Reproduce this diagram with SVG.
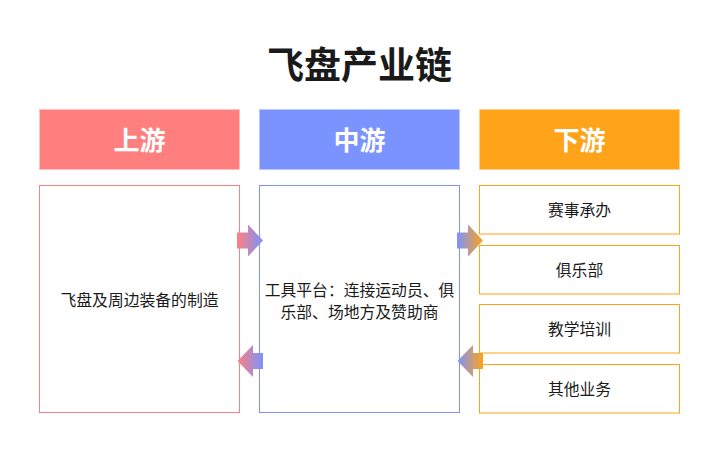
<svg xmlns="http://www.w3.org/2000/svg" width="719" height="452" viewBox="0 0 719 452">
<defs>
<style>
.t{font-family:"Noto Sans CJK SC","Liberation Sans",sans-serif;}
.title{font-size:37px;font-weight:bold;fill:#1a1a1a;text-anchor:middle;}
.hd{font-size:26px;font-weight:bold;fill:#ffffff;text-anchor:middle;}
.bd{font-size:15.8px;fill:#1a1a1a;text-anchor:middle;}
.up{fill:#ff7f7f;stroke:#ffc0c0;stroke-width:1;}
.mid{fill:#7b93ff;stroke:#bcc8ff;stroke-width:1;}
.down{fill:#ffa31a;stroke:#ffd08a;stroke-width:1;}
.ub{fill:#ffffff;stroke:#ff7f7f;stroke-width:1;}
.mb{fill:#ffffff;stroke:#7b93ff;stroke-width:1;}
.db{fill:#ffffff;stroke:#ffa31a;stroke-width:1;}
</style>
<linearGradient id="gPM" x1="0" y1="0" x2="1" y2="0">
<stop offset="0" stop-color="#ff7f7f"/><stop offset="1" stop-color="#7b93ff"/>
</linearGradient>
<linearGradient id="gMD" x1="0" y1="0" x2="1" y2="0">
<stop offset="0" stop-color="#7b93ff"/><stop offset="1" stop-color="#ffa31a"/>
</linearGradient>
</defs>
<rect width="719" height="452" fill="#ffffff"/>
<text class="t title" x="359.5" y="79">飞盘产业链</text>

<g id="upstream-header"><rect class="up" x="39.5" y="109.5" width="200" height="60"/><text class="t hd" x="139.5" y="149.5">上游</text></g>
<g id="midstream-header"><rect class="mid" x="259.5" y="109.5" width="200" height="60"/><text class="t hd" x="359.5" y="149.5">中游</text></g>
<g id="downstream-header"><rect class="down" x="479.5" y="109.5" width="200" height="60"/><text class="t hd" x="579.5" y="149.5">下游</text></g>

<g id="upstream-body"><rect class="ub" x="39.5" y="185.5" width="200" height="227"/><text class="t bd" x="139.5" y="305.5">飞盘及周边装备的制造</text></g>
<g id="midstream-body"><rect class="mb" x="259.5" y="185.5" width="200" height="227"/>
<text class="t bd" x="359.5" y="296">工具平台：连接运动员、俱</text>
<text class="t bd" x="359.5" y="318">乐部、场地方及赞助商</text></g>

<g id="d1"><rect class="db" x="479.5" y="185.5" width="200" height="48.5"/><text class="t bd" x="579.5" y="216">赛事承办</text></g>
<g id="d2"><rect class="db" x="479.5" y="245.5" width="200" height="48.5"/><text class="t bd" x="579.5" y="276">俱乐部</text></g>
<g id="d3"><rect class="db" x="479.5" y="304.5" width="200" height="48.5"/><text class="t bd" x="579.5" y="335">教学培训</text></g>
<g id="d4"><rect class="db" x="479.5" y="364.5" width="200" height="48.5"/><text class="t bd" x="579.5" y="395">其他业务</text></g>

<g id="connectors">
<polygon fill="url(#gPM)" points="237,232.5 248,232.5 248,224.5 263,240.5 248,256.5 248,248.5 237,248.5"/>
<polygon fill="url(#gPM)" points="263,353 253,353 253,345 237.5,361 253,377 253,369 263,369"/>
<polygon fill="url(#gMD)" points="457,232.5 468,232.5 468,224.5 483,240.5 468,256.5 468,248.5 457,248.5"/>
<polygon fill="url(#gMD)" points="483,353 473,353 473,345 457.5,361 473,377 473,369 483,369"/>
</g>
</svg>
